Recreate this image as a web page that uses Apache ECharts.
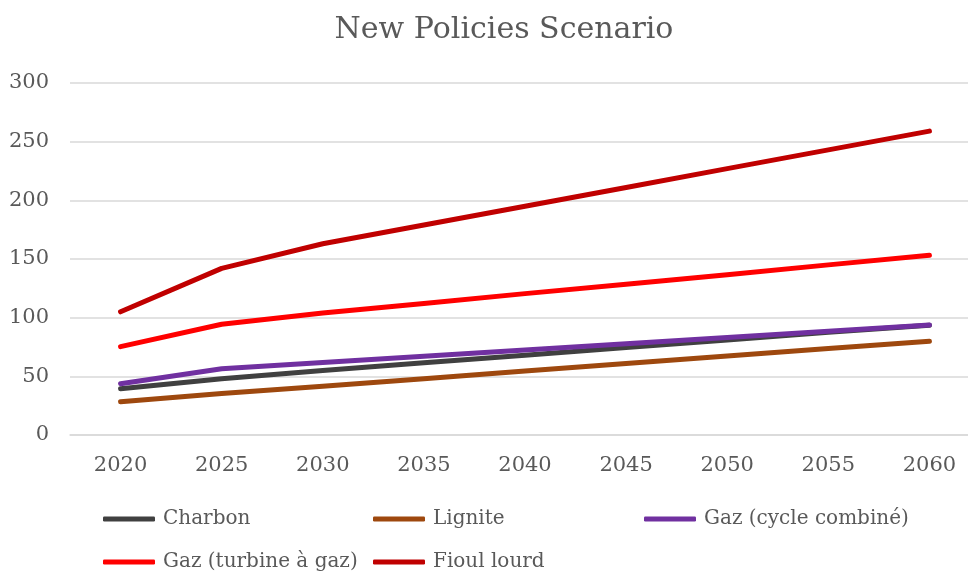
<!DOCTYPE html>
<html><head><meta charset="utf-8">
<script src="https://cdn.jsdelivr.net/npm/echarts@6/dist/echarts.min.js"></script>
<style>html,body{margin:0;padding:0;background:#fff}#c{width:968px;height:572px}</style>
</head><body><div id="c"></div>
<script>
var titleText = 'New Policies Scenario';
var years = ['2020','2025','2030','2035','2040','2045','2050','2055','2060'];
var yTicks = [0, 50, 100, 150, 200, 250, 300];
var seriesNames = ['Charbon','Lignite','Gaz (cycle combiné)','Gaz (turbine à gaz)','Fioul lourd'];
var charbon = [39.5, 48, 55, 61.5, 68, 74.5, 81, 87.5, 93.5];
var lignite = [28.4, 35.3, 41.5, 48, 54.5, 61, 67.3, 73.7, 80];
var gazCC = [43.7, 56.5, 61.8, 67.2, 72.5, 77.8, 83.1, 88.5, 93.8];
var gazTurbine = [75.3, 94.4, 104, 112, 120.5, 128.5, 136.5, 145, 153.2];
var fioul = [105, 142, 163, 179, 195, 211, 227, 243, 259];
var values = [charbon, lignite, gazCC, gazTurbine, fioul];
var colors = ['#404040','#9E480E','#7030A0','#FF0000','#C00000'];

var font = 'DejaVu Serif';
var legendPos = [[103,519],[373,519],[644,519],[103,562],[373,562]];
var chart = echarts.init(document.getElementById('c'));
chart.setOption({
  animation:false,
  backgroundColor:'#fff',
  title:{text:titleText,left:499,top:10,textAlign:'center',
    textStyle:{fontFamily:font,fontSize:30,fontWeight:'normal',color:'#595959'}},
  grid:{left:70,right:-12,top:83,bottom:137,outerBoundsMode:'none',containLabel:false},
  legend: seriesNames.map(function(n,i){
    return {data:[n],left:legendPos[i][0],top:legendPos[i][1]-10,icon:'roundRect',
      itemWidth:52,itemHeight:5,itemGap:0,padding:[0,0,0,0],
      textStyle:{fontFamily:font,fontSize:20,color:'#595959',padding:[0,0,0,3]}};
  }),
  xAxis:{type:'category',data:years,boundaryGap:true,
    axisLine:{show:true,lineStyle:{color:'#d9d9d9',width:1.5}},
    axisTick:{show:false},
    axisLabel:{fontFamily:font,fontSize:21,color:'#595959',margin:20}},
  yAxis:{type:'value',min:yTicks[0],max:yTicks[yTicks.length-1],interval:50,
    axisLine:{show:false},axisTick:{show:false},
    splitLine:{lineStyle:{color:'#d9d9d9',width:1.5}},
    axisLabel:{fontFamily:font,fontSize:21,color:'#595959',margin:21}},
  series: seriesNames.map(function(n,i){
    return {name:n,type:'line',data:values[i],showSymbol:false,symbol:'none',
      color:colors[i],
      lineStyle:{width:5,color:colors[i],cap:'round',join:'round'}};
  })
});
</script></body></html>
